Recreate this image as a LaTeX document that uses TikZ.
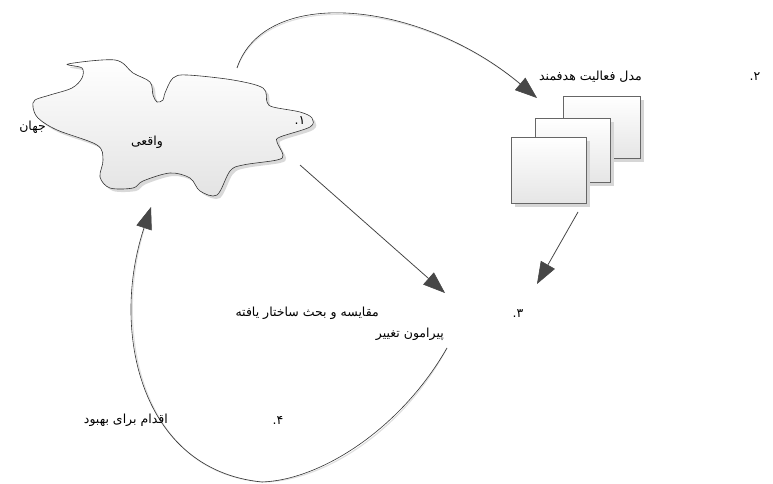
\documentclass[tikz,border=0pt]{standalone}
\usepackage{fontspec}
\newfontfamily\arabicfont[Script=Arabic]{DejaVu Sans}
\TeXXeTstate=1
\usetikzlibrary{arrows.meta}
\begin{document}
\begin{tikzpicture}[x=1pt,y=-1pt,
  lbl/.style={font=\arabicfont\fontsize{12.5}{14}\selectfont, inner sep=0pt},
  conn/.style={draw=black!80, line width=0.6pt, -{Triangle[length=22pt,width=16pt,color=black!72,fill=black!72]}},
  connshadow/.style={draw=black!12, line width=1.2pt, -{Triangle[length=22pt,width=16pt,color=black!10,fill=black!10]}},
  card/.style={draw=black!60, line width=0.5pt, top color=white, bottom color=black!10, anchor=north west, inner sep=0pt},
  cardshadow/.style={fill=black!16, draw=none, anchor=north west, inner sep=0pt},
  cloudfill/.style={draw=black!80, line width=0.6pt, top color=white, bottom color=black!11},
  cloudshadow/.style={fill=black!15, draw=none}]
\useasboundingbox (0,0) rectangle (773,484);

% cloud (real world)
\def\cloudpath{plot[smooth cycle, tension=0.55] coordinates {(68,64) (82,68) (82,78) (72,88) (50,95) (35,100) (33,107) (38,118) (57,130) (97,145) (103,160) (100,177) (110,188) (133,188) (143,181) (170,173) (190,178) (200,191) (217,195) (230,171) (243,165) (277,160) (283,155) (277,142) (280,137) (310,127) (312,118) (300,112) (273,107) (267,102) (263,88) (233,80) (187,75) (173,78) (165,93) (163,100) (157,102) (153,95) (150,82) (133,73) (115,60)}}
\path[cloudshadow, shift={(3,3)}] \cloudpath;
\path[cloudfill] \cloudpath;

% stacked cards
\node[cardshadow, minimum width=77pt, minimum height=62pt] (sqbacks) at (567,100) {};
\node[card, minimum width=77pt, minimum height=62pt] (sqback) at (563,96) {};
\node[cardshadow, minimum width=75pt, minimum height=64pt] (sqmids) at (539,122) {};
\node[card, minimum width=75pt, minimum height=64pt] (sqmid) at (535,118) {};
\node[cardshadow, minimum width=75pt, minimum height=66pt] (sqfronts) at (515,141) {};
\node[card, minimum width=75pt, minimum height=66pt] (sqfront) at (511,137) {};

% connector end points
\coordinate (a1s) at (237,68);
\coordinate (a1e) at (537,98);
\coordinate (a2s) at (300,165);
\coordinate (a2e) at (445,293);
\coordinate (a3s) at (578,212);
\coordinate (a3e) at (537,284);
\coordinate (a4s) at (447,348);
\coordinate (a4m) at (262,482);
\coordinate (a4e) at (151,207);

% shadows of connectors
\begin{scope}[shift={(2,2)}]
\draw[connshadow] (a1s) .. controls (265,-15) and (420,0) .. (a1e);
\draw[connshadow] (a2s) -- (a2e);
\draw[connshadow] (a3s) -- (a3e);
\draw[connshadow] (a4s) .. controls (400,430) and (320,480) .. (a4m) .. controls (140,470) and (110,330) .. (a4e);
\end{scope}

% connectors
\draw[conn] (a1s) .. controls (265,-15) and (420,0) .. (a1e);
\draw[conn] (a2s) -- (a2e);
\draw[conn] (a3s) -- (a3e);
\draw[conn] (a4s) .. controls (400,430) and (320,480) .. (a4m) .. controls (140,470) and (110,330) .. (a4e);

% labels
\node[lbl, anchor=east] (t1a) at (46,127) {\beginR جهان\endR};
\node[lbl] (t1b) at (147,142) {\beginR واقعی\endR};
\node[lbl] (t1n) at (300,121) {\beginR ۱.\endR};
\node[lbl, anchor=east] (t2) at (642,77) {\beginR مدل فعالیت هدفمند\endR};
\node[lbl] (t2n) at (755,77) {\beginR ۲.\endR};
\node[lbl, anchor=east] (t3a) at (379,313) {\beginR مقایسه و بحث ساختار یافته\endR};
\node[lbl, anchor=east] (t3b) at (444,334) {\beginR پیرامون تغییر\endR};
\node[lbl] (t3n) at (518,314) {\beginR ۳.\endR};
\node[lbl, anchor=east] (t4) at (168,420) {\beginR اقدام برای بهبود\endR};
\node[lbl] (t4n) at (278,420) {\beginR ۴.\endR};
\end{tikzpicture}
\end{document}
